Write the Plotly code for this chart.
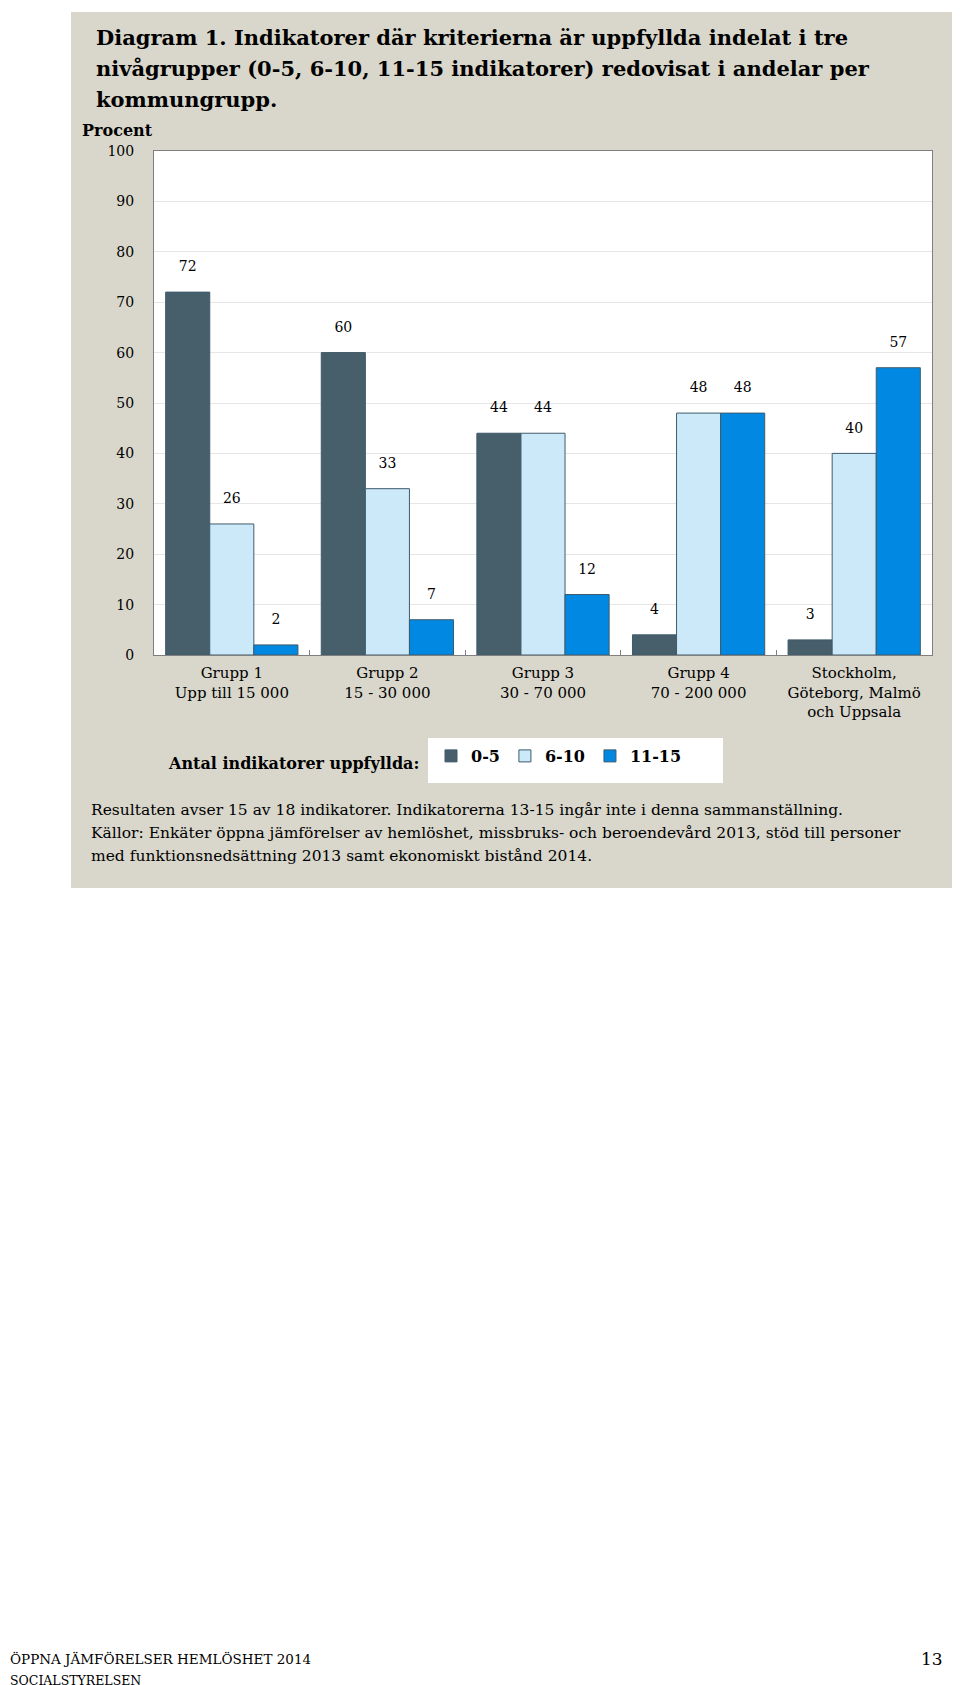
import plotly.graph_objects as go

categories = ["Grupp 1<br>Upp till 15 000", "Grupp 2<br>15 - 30 000", "Grupp 3<br>30 - 70 000",
              "Grupp 4<br>70 - 200 000", "Stockholm,<br>Göteborg, Malmö<br>och Uppsala"]
series_names = ["0-5", "6-10", "11-15"]
v_0_5 = [72, 60, 44, 4, 3]
v_6_10 = [26, 33, 44, 48, 40]
v_11_15 = [2, 7, 12, 48, 57]
series_values = [v_0_5, v_6_10, v_11_15]
colors = ["#465F6B", "#CCE9FA", "#0088E2"]
y_ticks = [0, 10, 20, 30, 40, 50, 60, 70, 80, 90, 100]

title_lines = ["Diagram 1. Indikatorer där kriterierna är uppfyllda indelat i tre",
               "nivågrupper (0-5, 6-10, 11-15 indikatorer) redovisat i andelar per",
               "kommungrupp."]
note_lines = ["Resultaten avser 15 av 18 indikatorer. Indikatorerna 13-15 ingår inte i denna sammanställning.",
              "Källor: Enkäter öppna jämförelser av hemlöshet, missbruks- och beroendevård 2013, stöd till personer",
              "med funktionsnedsättning 2013 samt ekonomiskt bistånd 2014."]

W, H = 960, 1685
L, R, T, B = 146, 924, 143, 647
pw, ph = R - L, B - T

def px(x):
    return (x - L) / pw

def py(y):
    return (B - y) / ph

SERIF = "DejaVu Serif"

fig = go.Figure()
for name, vals, col in zip(series_names, series_values, colors):
    fig.add_trace(go.Bar(
        x=categories, y=vals, name=name, offsetgroup=name,
        marker=dict(color=col, line=dict(color="#3F5B6B", width=1)),
    ))
for name, vals in zip(series_names, series_values):
    fig.add_trace(go.Scatter(
        x=categories, y=vals, offsetgroup=name, mode="markers+text",
        text=[str(v) for v in vals], textposition="top center",
        marker=dict(size=26, opacity=0), showlegend=False, hoverinfo="skip",
        textfont=dict(family=SERIF, size=14, color="#000000"),
    ))

shapes = [
    dict(type="rect", xref="paper", yref="paper", layer="below",
         x0=px(63), x1=px(952), y0=py(880), y1=py(4),
         fillcolor="#D9D7CB", line=dict(width=0)),
    dict(type="rect", xref="paper", yref="paper", layer="below",
         x0=0, x1=1, y0=0, y1=1, fillcolor="#FFFFFF", line=dict(width=0)),
    dict(type="rect", xref="paper", yref="paper", layer="below",
         x0=px(420), x1=px(715), y0=py(775), y1=py(730),
         fillcolor="#FFFFFF", line=dict(width=0)),
]

ann = []
for i, t in enumerate(title_lines):
    ann.append(dict(text=t, xref="paper", yref="paper", x=px(86), y=py(30 + 31 * i),
                    xanchor="left", yanchor="middle", showarrow=False,
                    font=dict(family=SERIF, size=21, color="#000000", weight="bold")))
ann.append(dict(text="Procent", xref="paper", yref="paper", x=px(72), y=py(123),
                xanchor="left", yanchor="middle", showarrow=False,
                font=dict(family=SERIF, size=16, color="#000000", weight="bold")))
ann.append(dict(text="Antal indikatorer uppfyllda:", xref="paper", yref="paper", x=px(413), y=py(755),
                xanchor="right", yanchor="middle", showarrow=False,
                font=dict(family=SERIF, size=16, color="#000000", weight="bold")))
for i, t in enumerate(note_lines):
    ann.append(dict(text=t, xref="paper", yref="paper", x=px(81), y=py(802 + 23 * i),
                    xanchor="left", yanchor="middle", showarrow=False,
                    font=dict(family=SERIF, size=15.5, color="#000000")))
ann.append(dict(text="ÖPPNA JÄMFÖRELSER HEMLÖSHET 2014", xref="paper", yref="paper", x=px(0), y=py(1651),
                xanchor="left", yanchor="middle", showarrow=False,
                font=dict(family=SERIF, size=13.5, color="#000000")))
ann.append(dict(text="SOCIALSTYRELSEN", xref="paper", yref="paper", x=px(0), y=py(1672),
                xanchor="left", yanchor="middle", showarrow=False,
                font=dict(family=SERIF, size=12.5, color="#000000")))
ann.append(dict(text="13", xref="paper", yref="paper", x=px(937), y=py(1651),
                xanchor="right", yanchor="middle", showarrow=False,
                font=dict(family=SERIF, size=17, color="#000000")))

fig.update_layout(
    width=W, height=H, margin=dict(l=L, r=W - R, t=T, b=H - B, autoexpand=False),
    paper_bgcolor="#FFFFFF", plot_bgcolor="#FFFFFF",
    barmode="group", bargap=0.15, bargroupgap=0, scattermode="group", scattergap=0.15,
    shapes=shapes, annotations=ann,
    legend=dict(orientation="h", x=px(423), y=py(731), xanchor="left", yanchor="top",
                bgcolor="rgba(0,0,0,0)", borderwidth=0, traceorder="normal",
                font=dict(family=SERIF, size=16, color="#000000", weight="bold"),
                itemwidth=30),
    xaxis=dict(type="category", showline=True, linecolor="#7F7F7F", linewidth=1, mirror=True,
               ticks="inside", tickson="boundaries", ticklen=5, tickcolor="#7F7F7F",
               showgrid=False, ticklabelstandoff=4,
               tickfont=dict(family=SERIF, size=15, color="#000000")),
    yaxis=dict(range=[0, 100], tickvals=y_ticks, showline=True, linecolor="#7F7F7F", linewidth=1,
               mirror=True, showgrid=True, gridcolor="#E6E6E6", gridwidth=1, zeroline=False,
               ticks="", ticklabelstandoff=16,
               tickfont=dict(family=SERIF, size=14, color="#000000")),
    showlegend=True,
)

fig.write_html("out.html")
